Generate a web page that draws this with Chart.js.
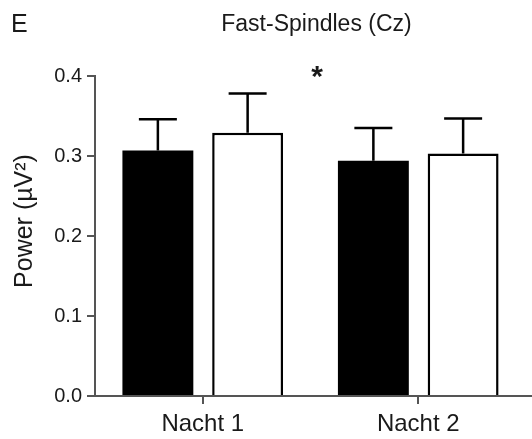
<!DOCTYPE html>
<html>
<head>
<meta charset="utf-8">
<script src="https://cdn.jsdelivr.net/npm/chart.js@4"></script>
<style>
  html, body { margin: 0; padding: 0; background: #fff; }
  #wrap { width: 532px; height: 439px; position: relative; }
</style>
</head>
<body>
<div id="wrap"><canvas id="chart"></canvas></div>
<script>
// values
const nights = ['Nacht 1', 'Nacht 2'];
const blackMeans = [0.307, 0.294];
const blackErr = [0.039, 0.041];
const whiteMeans = [0.329, 0.303];
const whiteErr = [0.049, 0.044];
const yTicks = [0.0, 0.1, 0.2, 0.3, 0.4];

const FONT = '"Liberation Sans", Arial, sans-serif';
const INK = '#1a1a1a';
const AXIS = '#555';

// upper error bars (SEM) on top of every bar
const errorBars = {
    id: 'errorBars',
    afterDatasetsDraw(chart) {
        const ctx = chart.ctx;
        const y = chart.scales.y;
        chart.data.datasets.forEach((ds, i) => {
            const meta = chart.getDatasetMeta(i);
            meta.data.forEach((bar, j) => {
                const top = y.getPixelForValue(ds.data[j] + ds.errors[j]);
                const base = y.getPixelForValue(ds.data[j]);
                ctx.save();
                ctx.strokeStyle = '#000';
                ctx.lineWidth = 2.5;
                ctx.beginPath();
                ctx.moveTo(bar.x, base);
                ctx.lineTo(bar.x, top);
                ctx.moveTo(bar.x - 19, top);
                ctx.lineTo(bar.x + 19, top);
                ctx.stroke();
                ctx.restore();
            });
        });
    }
};

// panel letter, title, y title and significance star
const labels = {
    id: 'labels',
    afterDraw(chart) {
        const ctx = chart.ctx;
        const area = chart.chartArea;
        ctx.save();
        // x axis runs on to the edge of the panel
        ctx.strokeStyle = AXIS;
        ctx.lineWidth = 2;
        ctx.beginPath();
        ctx.moveTo(area.right, area.bottom);
        ctx.lineTo(chart.width, area.bottom);
        ctx.stroke();

        ctx.fillStyle = INK;
        ctx.textBaseline = 'middle';
        ctx.font = '25px ' + FONT;
        ctx.textAlign = 'left';
        ctx.fillText('E', 11, 25);
        ctx.font = '23px ' + FONT;
        ctx.textAlign = 'center';
        ctx.fillText('Fast-Spindles (Cz)', (area.left + area.right) / 2 + 6, 25);
        ctx.font = 'bold 30px ' + FONT;
        ctx.fillText('*', chart.scales.x.getPixelForValue(0.53), chart.scales.y.getPixelForValue(0.405) + 6);
        ctx.translate(25, 221);
        ctx.rotate(-Math.PI / 2);
        ctx.font = '25px ' + FONT;
        ctx.fillText('Power (µV²)', 0, 0);
        ctx.restore();
    }
};

new Chart(document.getElementById('chart'), {
    type: 'bar',
    data: {
        labels: nights,
        datasets: [
            { data: blackMeans, errors: blackErr, backgroundColor: '#000', borderColor: '#000', borderWidth: 0 },
            { data: whiteMeans, errors: whiteErr, backgroundColor: '#fff', borderColor: '#000', borderWidth: 2.5 }
        ]
    },
    options: {
        responsive: true,
        maintainAspectRatio: false,
        animation: false,
        devicePixelRatio: 1,
        categoryPercentage: 0.833,
        barPercentage: 0.79,
        layout: { padding: { top: 76, right: 6, left: 0, bottom: 0 } },
        plugins: { legend: { display: false }, tooltip: { enabled: false }, title: { display: false } },
        scales: {
            x: {
                grid: { drawOnChartArea: false, drawTicks: true, tickLength: 8, color: AXIS, lineWidth: 2, offset: false },
                border: { display: true, color: AXIS, width: 2 },
                ticks: { color: INK, font: { family: FONT, size: 24 }, padding: 6 },
                afterFit(scale) { scale.height = 43; }
            },
            y: {
                min: 0,
                max: 0.4,
                afterBuildTicks(scale) { scale.ticks = yTicks.map(v => ({ value: v })); },
                grid: { drawOnChartArea: false, drawTicks: true, tickLength: 8, color: AXIS, lineWidth: 2 },
                border: { display: true, color: AXIS, width: 2 },
                ticks: { color: INK, font: { family: FONT, size: 20 }, padding: 5, callback: v => v.toFixed(1) },
                afterFit(scale) { scale.width = 95; }
            }
        }
    },
    plugins: [errorBars, labels]
});
</script>
</body>
</html>
